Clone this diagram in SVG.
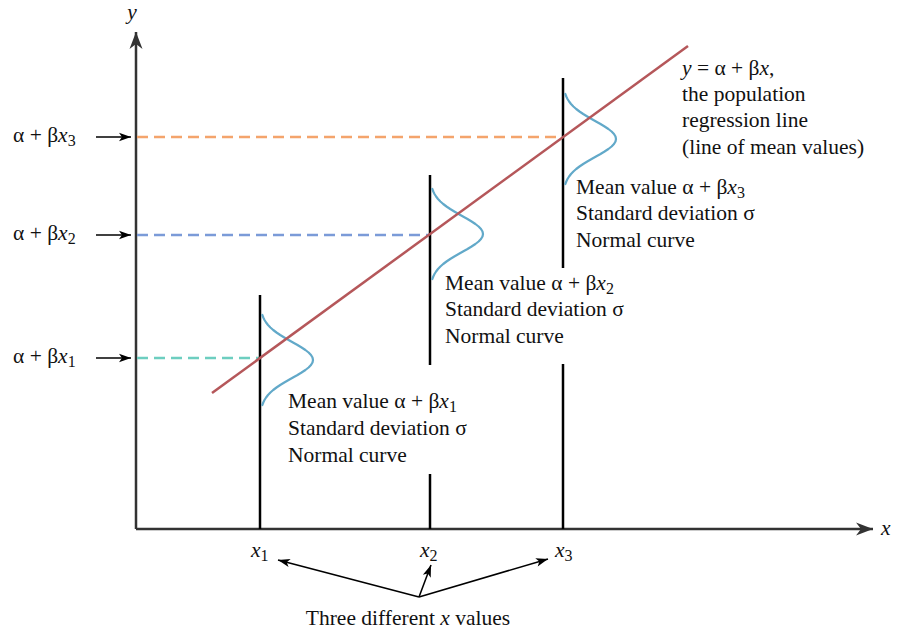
<svg xmlns="http://www.w3.org/2000/svg" width="899" height="634" viewBox="0 0 899 634">
<style>
.t{font-family:"Liberation Serif","Times New Roman",serif;font-size:21.5px;fill:#111}
.i{font-style:italic}
.s{font-size:16px}
.axis{stroke:#333;stroke-width:2.5;fill:none}
.vline{stroke:#000;stroke-width:2.5;fill:none}
.reg{stroke:#b5575a;stroke-width:2.5;fill:none}
.dash{stroke-width:2.5;stroke-dasharray:11 6;fill:none}
.curve{stroke:#62a9c9;stroke-width:2.2;fill:none;stroke-linejoin:round;stroke-linecap:round}
.arr{stroke:#000;stroke-width:1.6;fill:none}
</style>
<defs>
<marker id="axhead" markerUnits="userSpaceOnUse" markerWidth="20" markerHeight="16" viewBox="-17 -8 18 16" refX="0" refY="0" orient="auto">
<path d="M0,0 L-17,-6.5 L-12,0 L-17,6.5 Z" fill="#333"/>
</marker>
<marker id="head" markerUnits="userSpaceOnUse" markerWidth="14" markerHeight="10" viewBox="-13 -5 14 10" refX="0" refY="0" orient="auto">
<path d="M0,0 L-12,-4.2 L-9,0 L-12,4.2 Z" fill="#000"/>
</marker>
<polyline id="gauss" points="2.3,-45 3.3,-42.5 4.5,-40 6.1,-37.5 8,-35 10.4,-32.5 13.2,-30 16.5,-27.5 20.2,-25 24.3,-22.5 28.6,-20 33,-17.5 37.5,-15 41.6,-12.5 45.4,-10 48.6,-7.5 51,-5 52.5,-2.5 53,0 52.5,2.5 51,5 48.6,7.5 45.4,10 41.6,12.5 37.5,15 33,17.5 28.6,20 24.3,22.5 20.2,25 16.5,27.5 13.2,30 10.4,32.5 8,35 6.1,37.5 4.5,40 3.3,42.5 2.3,45"/>
</defs>

<g id="axes">
<line class="axis" x1="136" y1="529" x2="136" y2="32" marker-end="url(#axhead)"/>
<line class="axis" x1="136" y1="529" x2="873" y2="529" marker-end="url(#axhead)"/>
<text class="t i" x="132" y="19" text-anchor="middle">y</text>
<text class="t i" x="881" y="535">x</text>
</g>

<g id="guides">
<line class="dash" x1="137" y1="137" x2="563" y2="137" stroke="#f4a46c"/>
<line class="dash" x1="137" y1="235" x2="430" y2="235" stroke="#7b9bd8"/>
<line class="dash" x1="137" y1="358" x2="260" y2="358" stroke="#6dcec0"/>
</g>

<g id="verticals">
<line class="vline" x1="260" y1="295" x2="260" y2="529"/>
<line class="vline" x1="430" y1="175" x2="430" y2="365"/>
<line class="vline" x1="430" y1="474" x2="430" y2="529"/>
<line class="vline" x1="563" y1="78" x2="563" y2="268"/>
<line class="vline" x1="563" y1="364" x2="563" y2="529"/>
</g>

<g id="dist1"><use href="#gauss" class="curve" transform="translate(260,360)"/></g>
<g id="dist2"><use href="#gauss" class="curve" transform="translate(430,234)"/></g>
<g id="dist3"><use href="#gauss" class="curve" transform="translate(563,139)"/></g>

<g id="regression">
<line class="reg" x1="212" y1="393" x2="688" y2="46"/>
</g>

<g id="label-regression">
<text class="t" x="682" y="75"><tspan class="i">y</tspan> = α + β<tspan class="i">x</tspan>,</text>
<text class="t" x="682" y="101">the population</text>
<text class="t" x="682" y="127">regression line</text>
<text class="t" x="682" y="154">(line of mean values)</text>
</g>

<g id="label-x1">
<text class="t" x="288" y="408">Mean value α + β<tspan class="i">x</tspan><tspan class="s" dy="4">1</tspan></text>
<text class="t" x="288" y="435">Standard deviation σ</text>
<text class="t" x="288" y="462">Normal curve</text>
</g>
<g id="label-x2">
<text class="t" x="445" y="290">Mean value α + β<tspan class="i">x</tspan><tspan class="s" dy="4">2</tspan></text>
<text class="t" x="445" y="316">Standard deviation σ</text>
<text class="t" x="445" y="343">Normal curve</text>
</g>
<g id="label-x3">
<text class="t" x="576" y="194">Mean value α + β<tspan class="i">x</tspan><tspan class="s" dy="4">3</tspan></text>
<text class="t" x="576" y="220">Standard deviation σ</text>
<text class="t" x="576" y="247">Normal curve</text>
</g>

<g id="y-labels">
<text class="t" x="13" y="142">α + β<tspan class="i">x</tspan><tspan class="s" dy="4">3</tspan></text>
<text class="t" x="13" y="240">α + β<tspan class="i">x</tspan><tspan class="s" dy="4">2</tspan></text>
<text class="t" x="13" y="363">α + β<tspan class="i">x</tspan><tspan class="s" dy="4">1</tspan></text>
</g>

<g id="x-labels">
<text class="t" x="251" y="557"><tspan class="i">x</tspan><tspan class="s" dy="4">1</tspan></text>
<text class="t" x="420" y="557"><tspan class="i">x</tspan><tspan class="s" dy="4">2</tspan></text>
<text class="t" x="555" y="557"><tspan class="i">x</tspan><tspan class="s" dy="4">3</tspan></text>
<text class="t" x="408" y="625" text-anchor="middle">Three different <tspan class="i">x</tspan> values</text>
</g>

<g id="connectors">
<line class="arr" x1="96" y1="137" x2="131" y2="137" marker-end="url(#head)"/>
<line class="arr" x1="96" y1="235" x2="131" y2="235" marker-end="url(#head)"/>
<line class="arr" x1="96" y1="358" x2="131" y2="358" marker-end="url(#head)"/>
<line class="arr" x1="419" y1="597" x2="278" y2="560" marker-end="url(#head)"/>
<line class="arr" x1="419" y1="597" x2="431" y2="565" marker-end="url(#head)"/>
<line class="arr" x1="419" y1="597" x2="548" y2="559" marker-end="url(#head)"/>
</g>
</svg>
